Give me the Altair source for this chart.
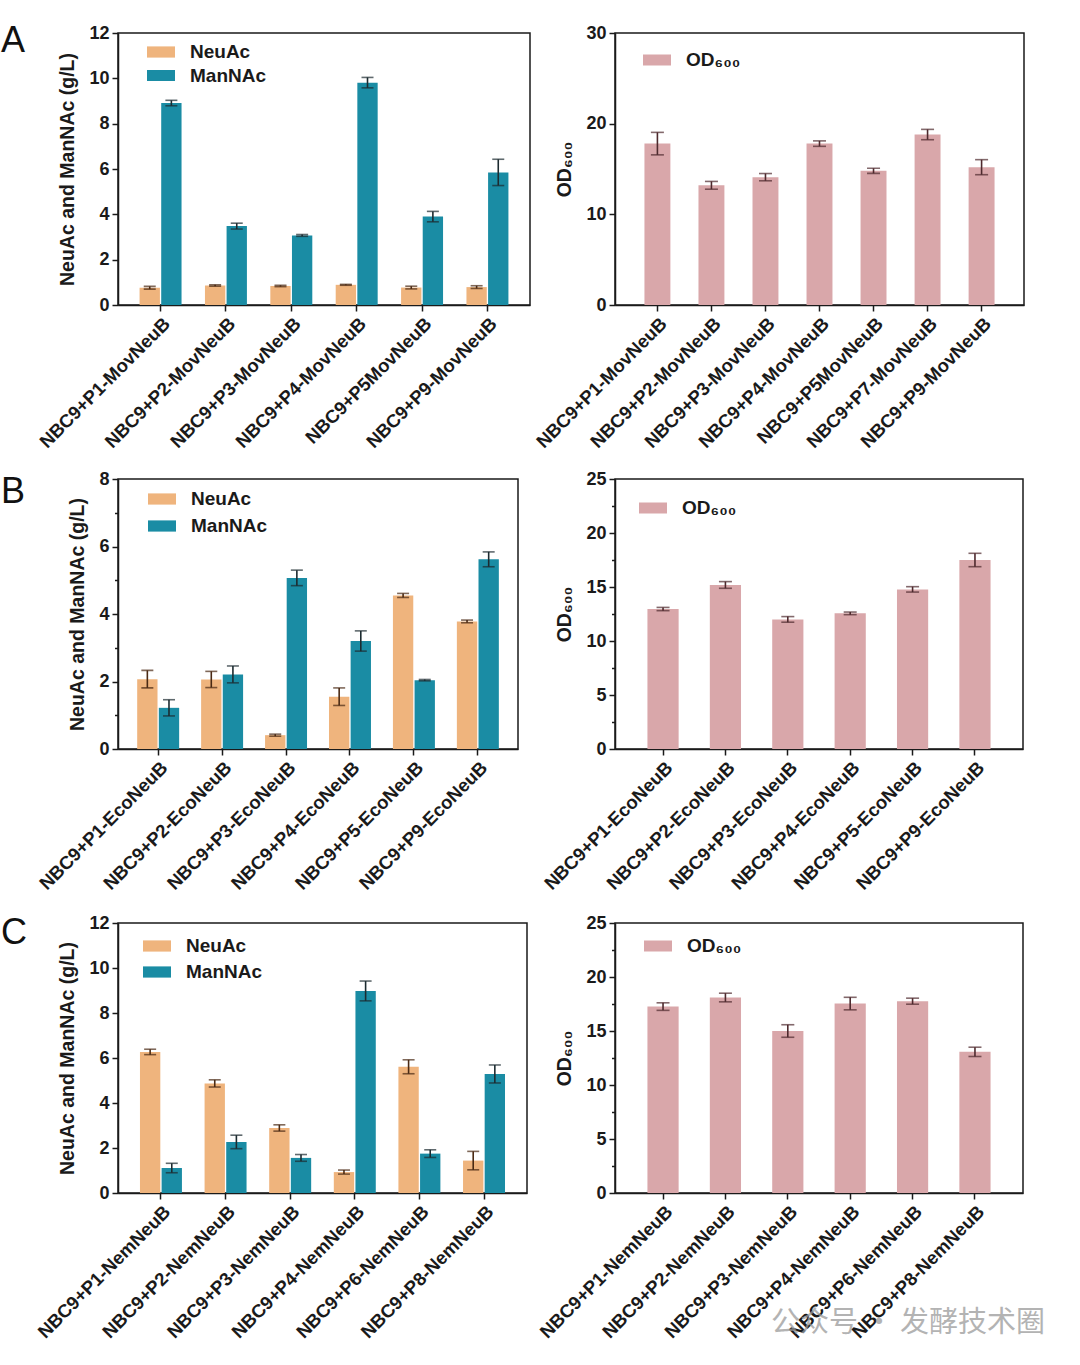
import altair as alt
import pandas as pd

FONT = "Liberation Sans"
ORANGE = "#EFB47D"
TEAL = "#1A8CA4"
PINK = "#D9A7AA"
ERR_OR = "#4A2A14"
ERR_TE = "#1C2B30"
ERR_PK = "#4E2A2E"
AX = "#1a1a1a"
SERIES = ["NeuAc", "ManNAc"]
OD_LABEL = "OD\u2086\u2080\u2080"
Y_TITLE = "NeuAc and ManNAc (g/L)"

# ---------------- Panel A ----------------
cats_A = ["NBC9+P1-MovNeuB", "NBC9+P2-MovNeuB", "NBC9+P3-MovNeuB",
          "NBC9+P4-MovNeuB", "NBC9+P5MovNeuB", "NBC9+P9-MovNeuB"]
neuac_A = [0.76, 0.86, 0.84, 0.89, 0.77, 0.79]
neuac_A_err = [0.06, 0.03, 0.03, 0.02, 0.06, 0.06]
mannac_A = [8.91, 3.48, 3.07, 9.81, 3.90, 5.85]
mannac_A_err = [0.12, 0.13, 0.04, 0.23, 0.23, 0.58]

cats_A_od = ["NBC9+P1-MovNeuB", "NBC9+P2-MovNeuB", "NBC9+P3-MovNeuB",
             "NBC9+P4-MovNeuB", "NBC9+P5MovNeuB", "NBC9+P7-MovNeuB",
             "NBC9+P9-MovNeuB"]
od_A = [17.8, 13.2, 14.1, 17.8, 14.8, 18.8, 15.2]
od_A_err = [1.24, 0.43, 0.40, 0.30, 0.28, 0.57, 0.83]

# ---------------- Panel B ----------------
cats_B = ["NBC9+P1-EcoNeuB", "NBC9+P2-EcoNeuB", "NBC9+P3-EcoNeuB",
          "NBC9+P4-EcoNeuB", "NBC9+P5-EcoNeuB", "NBC9+P9-EcoNeuB"]
neuac_B = [2.07, 2.06, 0.41, 1.55, 4.55, 3.78]
neuac_B_err = [0.26, 0.24, 0.03, 0.26, 0.06, 0.04]
mannac_B = [1.22, 2.21, 5.07, 3.20, 2.04, 5.62]
mannac_B_err = [0.24, 0.25, 0.23, 0.30, 0.02, 0.22]

od_B = [12.96, 15.19, 12.0, 12.56, 14.78, 17.5]
od_B_err = [0.15, 0.31, 0.26, 0.12, 0.25, 0.62]

# ---------------- Panel C ----------------
cats_C = ["NBC9+P1-NemNeuB", "NBC9+P2-NemNeuB", "NBC9+P3-NemNeuB",
          "NBC9+P4-NemNeuB", "NBC9+P6-NemNeuB", "NBC9+P8-NemNeuB"]
neuac_C = [6.27, 4.87, 2.89, 0.93, 5.61, 1.44]
neuac_C_err = [0.12, 0.16, 0.14, 0.09, 0.31, 0.41]
mannac_C = [1.11, 2.27, 1.56, 8.98, 1.75, 5.29]
mannac_C_err = [0.21, 0.30, 0.15, 0.44, 0.17, 0.40]

od_C = [17.26, 18.1, 15.0, 17.54, 17.76, 13.07]
od_C_err = [0.35, 0.40, 0.58, 0.58, 0.28, 0.43]

WATERMARK = "公众号 · 发酵技术圈"


def x_axis():
    return alt.Axis(title=None, labelAngle=-45, labelFont=FONT, labelFontSize=18.5,
                    labelFontWeight="bold", labelColor=AX, labelLimit=400,
                    labelOverlap=False, labelPadding=3, tickSize=6, tickWidth=1.5,
                    tickColor=AX, domainColor=AX, domainWidth=1.5, grid=False)


def y_axis(title, values, major_test=None):
    kw = dict(title=title, values=values, labelFont=FONT, labelFontSize=18,
              labelFontWeight="bold", labelColor=AX, labelPadding=3,
              titleFont=FONT, titleFontSize=19.5, titleFontWeight="bold",
              titleColor=AX, titlePadding=11, tickWidth=1.5, tickColor=AX,
              domainColor=AX, domainWidth=1.5, grid=False)
    if major_test:
        kw["labelExpr"] = f"({major_test}) ? datum.label : ''"
        kw["tickSize"] = {"condition": {"test": major_test, "value": 6}, "value": 3.5}
    else:
        kw["tickSize"] = 6
    return alt.Axis(**kw)


def legend(lx, ly, rowpad):
    return alt.Legend(title=None, orient="none", legendX=lx, legendY=ly,
                      symbolType="M-1,-0.4H1V0.4H-1Z", symbolSize=784,
                      symbolStrokeWidth=0, labelFont=FONT, labelFontSize=19,
                      labelFontWeight="bold", labelColor=AX, labelOffset=15,
                      rowPadding=rowpad, clipHeight=20, padding=0,
                      direction="vertical")


def letter_layer(letter, lety):
    return alt.Chart(pd.DataFrame({"t": [letter]})).mark_text(
        align="left", baseline="alphabetic", fontSize=36, font=FONT, color="#111"
    ).encode(text="t:N", x=alt.value(-117), y=alt.value(lety))


def grouped_panel(cats, neu, neu_e, man, man_e, ymax, yvals, major_test,
                  w, h, pi, po, lx, ly, rowpad, letter, lety):
    rows = []
    for c, v, e in zip(cats, neu, neu_e):
        rows.append(dict(cat=c, series="NeuAc", value=v, lo=v - e, hi=v + e))
    for c, v, e in zip(cats, man, man_e):
        rows.append(dict(cat=c, series="ManNAc", value=v, lo=v - e, hi=v + e))
    df = pd.DataFrame(rows)
    caps = pd.concat([df.assign(cap=df["lo"]), df.assign(cap=df["hi"])])

    x = alt.X("cat:N", sort=cats, scale=alt.Scale(paddingInner=pi, paddingOuter=po),
              axis=x_axis())
    xo = alt.XOffset("series:N", sort=SERIES,
                     scale=alt.Scale(domain=SERIES, paddingInner=0.06))
    ysc = alt.Scale(domain=[0, ymax], nice=False)
    yax = y_axis(Y_TITLE, yvals, major_test)

    bars = alt.Chart(df).mark_bar().encode(
        x=x, xOffset=xo,
        y=alt.Y("value:Q", scale=ysc, axis=yax, title=Y_TITLE),
        color=alt.Color("series:N", sort=SERIES,
                        scale=alt.Scale(domain=SERIES, range=[ORANGE, TEAL]),
                        legend=legend(lx, ly, rowpad)))
    rules = alt.Chart(df).mark_rule(strokeWidth=1.6).encode(
        x=x, xOffset=xo,
        y=alt.Y("lo:Q", scale=ysc, axis=yax, title=Y_TITLE), y2="hi:Q",
        color=alt.Color("series:N", scale=alt.Scale(domain=SERIES, range=[ERR_OR, ERR_TE]),
                        legend=None))
    ticks = alt.Chart(caps).mark_tick(thickness=1.6, size=12).encode(
        x=x, xOffset=xo,
        y=alt.Y("cap:Q", scale=ysc, axis=yax, title=Y_TITLE),
        color=alt.Color("series:N", scale=alt.Scale(domain=SERIES, range=[ERR_OR, ERR_TE]),
                        legend=None))
    return alt.layer(bars, rules, ticks, letter_layer(letter, lety)).resolve_scale(
        color="independent").properties(width=w, height=h)


def od_panel(cats, vals, errs, ymax, yvals, major_test, w, h, pi, po, lx, ly,
             watermark=False):
    df = pd.DataFrame(dict(cat=cats, value=vals,
                           lo=[v - e for v, e in zip(vals, errs)],
                           hi=[v + e for v, e in zip(vals, errs)],
                           series=[OD_LABEL] * len(cats)))
    caps = pd.concat([df.assign(cap=df["lo"]), df.assign(cap=df["hi"])])
    x = alt.X("cat:N", sort=cats, scale=alt.Scale(paddingInner=pi, paddingOuter=po),
              axis=x_axis())
    ysc = alt.Scale(domain=[0, ymax], nice=False)
    yax = y_axis(OD_LABEL, yvals, major_test)
    bars = alt.Chart(df).mark_bar().encode(
        x=x, y=alt.Y("value:Q", scale=ysc, axis=yax, title=OD_LABEL),
        color=alt.Color("series:N", scale=alt.Scale(domain=[OD_LABEL], range=[PINK]),
                        legend=legend(lx, ly, 0)))
    rules = alt.Chart(df).mark_rule(strokeWidth=1.6, color=ERR_PK).encode(
        x=x, y=alt.Y("lo:Q", scale=ysc, axis=yax, title=OD_LABEL), y2="hi:Q")
    ticks = alt.Chart(caps).mark_tick(thickness=1.6, size=13, color=ERR_PK).encode(
        x=x, y=alt.Y("cap:Q", scale=ysc, axis=yax, title=OD_LABEL))
    layers = [bars, rules, ticks]
    if watermark:
        layers.append(alt.Chart(pd.DataFrame({"t": [WATERMARK]})).mark_text(
            align="left", baseline="middle", fontSize=29, font="Noto Sans CJK SC",
            color="#9a9a9a", opacity=0.75
        ).encode(text="t:N", x=alt.value(156), y=alt.value(400)))
    return alt.layer(*layers).resolve_scale(color="independent").properties(
        width=w, height=h)


A_l = grouped_panel(cats_A, neuac_A, neuac_A_err, mannac_A, mannac_A_err,
                    12, [0, 2, 4, 6, 8, 10, 12], None,
                    412, 272, 0.358, 0.33, 29, 9, 3.5, "A", 19)
A_r = od_panel(cats_A_od, od_A, od_A_err, 30, [0, 10, 20, 30], None,
               409, 272, 0.52, 0.545, 28, 17)

B_l = grouped_panel(cats_B, neuac_B, neuac_B_err, mannac_B, mannac_B_err,
                    8, [0, 1, 2, 3, 4, 5, 6, 7, 8], "datum.value % 2 === 0",
                    400, 270, 0.344, 0.3, 30, 10, 7, "B", 24)
B_r = od_panel(cats_B, od_B, od_B_err, 25,
               [0, 2.5, 5, 7.5, 10, 12.5, 15, 17.5, 20, 22.5, 25],
               "datum.value % 5 === 0", 408, 270, 0.5, 0.52, 24, 19)

C_l = grouped_panel(cats_C, neuac_C, neuac_C_err, mannac_C, mannac_C_err,
                    12, [0, 2, 4, 6, 8, 10, 12], None,
                    409, 270, 0.35, 0.34, 25, 13, 6, "C", 21)
C_r = od_panel(cats_C, od_C, od_C_err, 25,
               [0, 2.5, 5, 7.5, 10, 12.5, 15, 17.5, 20, 22.5, 25],
               "datum.value % 5 === 0", 408, 270, 0.5, 0.52, 29, 13,
               watermark=True)

chart = alt.concat(A_l, A_r, B_l, B_r, C_l, C_r, columns=2,
                   spacing={"row": 174, "column": 85}, bounds="flush").resolve_scale(
    color="independent"
).properties(
    padding={"left": 0, "top": 22, "right": 5, "bottom": 5}
).configure(background="white").configure_view(stroke=AX, strokeWidth=1.5)

chart.save("out.html", embed_options={"renderer": "svg", "actions": False})
